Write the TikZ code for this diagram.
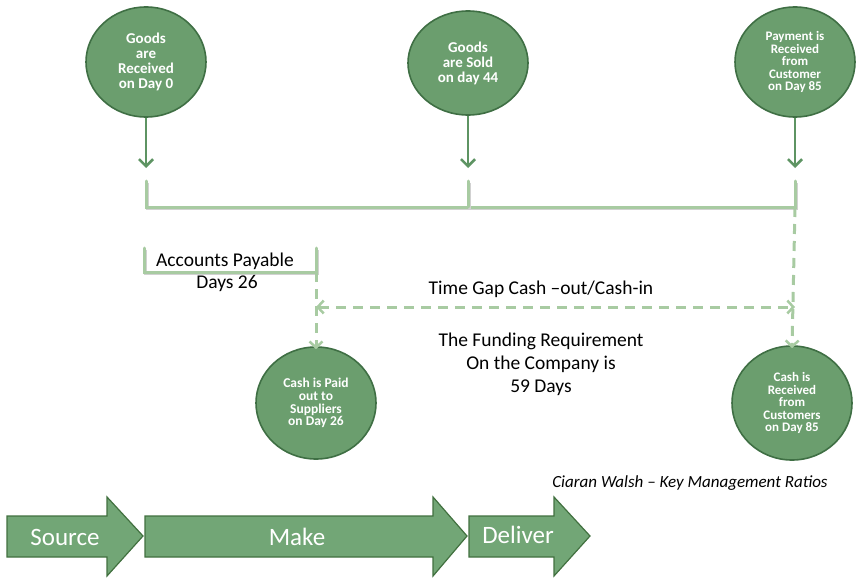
\documentclass[tikz,border=0pt]{standalone}
\usepackage{fontspec}
\setmainfont{Carlito}
\usetikzlibrary{arrows.meta,shapes.geometric}
\definecolor{cfill}{HTML}{6B9E6E}
\definecolor{cedge}{HTML}{3F6F44}
\definecolor{lite}{HTML}{A8CBA2}
\definecolor{afill}{HTML}{72A676}
\definecolor{aedge}{HTML}{41703F}
\definecolor{darr}{HTML}{5E9463}
\tikzset{
  evt/.style={ellipse, draw=cedge, line width=1.6pt, fill=cfill, text=white,
    align=center, inner sep=0pt, minimum width=120pt, minimum height=108pt},
  bigtxt/.style={font=\bfseries\fontsize{15}{15}\selectfont},
  smalltxt/.style={font=\bfseries\fontsize{13}{12.5}\selectfont},
  downarr/.style={draw=darr, line width=2.6pt, -{Straight Barb[length=7pt,width=14pt,line width=2.6pt]}},
  shadowed/.style={preaction={draw=black!18, line width=3pt, transform canvas={shift={(1pt,-1.5pt)}}}},
  liteline/.style={draw=lite, line width=3pt, line cap=round, shadowed},
  litedash/.style={draw=lite, line width=3pt, dash pattern=on 10pt off 7pt},
  litetip/.style={-{Straight Barb[length=6pt,width=13pt,line width=2.5pt]}},
  band/.style={fill=afill, draw=aedge, line width=1.2pt},
  bandtxt/.style={text=white, font=\fontsize{25}{25}\selectfont},
  plain/.style={font=\fontsize{19.5}{23}\selectfont, align=center}
}
\begin{document}
\begin{tikzpicture}[x=1pt,y=-1pt]
\useasboundingbox (0,0) rectangle (858,583);

% top circles
\node[evt, bigtxt, minimum height=110pt] (c1) at (146,62) {Goods\\are\\Received\\on Day 0};
\node[evt, bigtxt, minimum height=104pt] (c2) at (468,63) {Goods\\are Sold\\on day 44};
\node[evt, smalltxt, minimum height=110pt] (c3) at (795,62) {Payment is\\Received\\from\\Customer\\on Day 85};

% bottom circles
\node[evt, font=\bfseries\fontsize{13.5}{12.8}\selectfont, minimum height=112pt] (c4) at (316,403) {Cash is Paid\\out to\\Suppliers\\on Day 26};
\node[evt, font=\bfseries\fontsize{13}{12.5}\selectfont, minimum height=114pt] (c5) at (792,403) {Cash is\\Received\\from\\Customers\\on Day 85};

% arrow ends
\coordinate (a1) at (146,168);
\coordinate (a2) at (468,168);
\coordinate (a3) at (795,168);
\draw[downarr] (c1.south) -- (a1);
\draw[downarr] (c2.south) -- (a2);
\draw[downarr] (c3.south) -- (a3);

% bracket
\coordinate (b1t) at (146,181);
\coordinate (b1b) at (146,207);
\coordinate (b2t) at (468,181);
\coordinate (b2b) at (468,207);
\coordinate (b3t) at (795,181);
\coordinate (b3b) at (795,207);
\draw[liteline] (b1t) -- (b1b) -- (b3b) -- (b3t);
\draw[liteline] (b2t) -- (b2b);

% accounts payable bracket
\coordinate (p1t) at (144,248);
\coordinate (p1b) at (144,272);
\coordinate (p2t) at (316,248);
\coordinate (p2b) at (316,272);
\draw[liteline] (p1t) -- (p1b) -- (p2b) -- (p2t);
\node[plain] (ap) at (225,261) {Accounts Payable};
\node[plain] (ad) at (227,283) {Days 26};

% dashed verticals
\draw[litedash, litetip] (p2b) -- ([yshift=-3pt]c4.north);
\draw[litedash, litetip] (b3b) -- ([yshift=-3pt]c5.north);

% time gap
\coordinate (g1) at (316,307);
\coordinate (g2) at (795,307);
\draw[litedash, {Straight Barb[length=6pt,width=13pt,line width=2.5pt]}-{Straight Barb[length=6pt,width=13pt,line width=2.5pt]}] (g1) -- (g2);
\node[plain] (tg) at (541,289) {Time Gap Cash –out/Cash-in};
\node[plain] (fr) at (541,364) {The Funding Requirement\\On the Company is\\59 Days};

% credit
\node[font=\itshape\fontsize{17}{17}\selectfont] (cr) at (690,483) {Ciaran Walsh – Key Management Ratios};

% bottom arrows
\draw[band] (7,516) -- (107,516) -- (107,497) -- (143,536) -- (107,576) -- (107,557) -- (7,557) -- cycle;
\draw[band] (145,516) -- (433,516) -- (433,497) -- (467,536) -- (433,576) -- (433,557) -- (145,557) -- cycle;
\draw[band] (469,516) -- (554,516) -- (554,497) -- (590,536) -- (554,576) -- (554,557) -- (469,557) -- cycle;
\node[bandtxt] (s) at (65,537) {Source};
\node[bandtxt] (m) at (297,537) {Make};
\node[bandtxt] (d) at (518,535) {Deliver};
\end{tikzpicture}
\end{document}
